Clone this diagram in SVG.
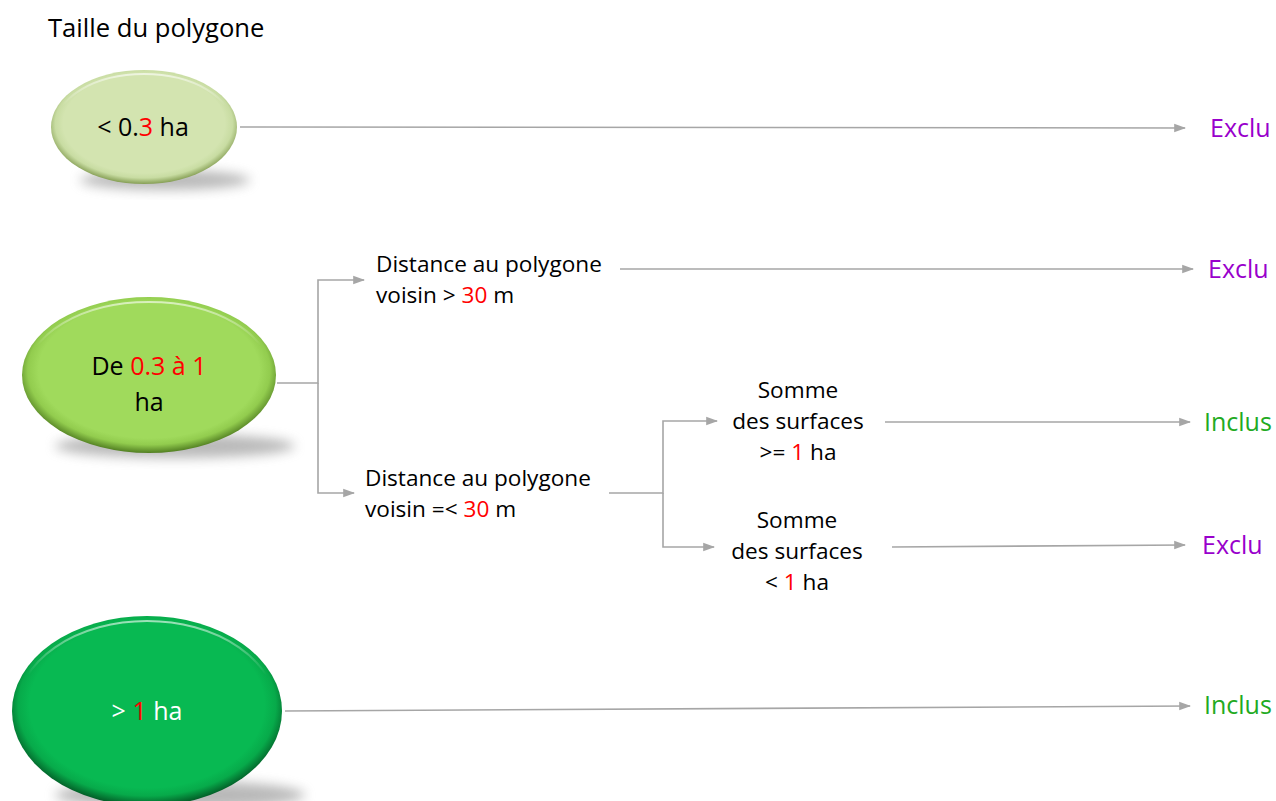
<svg xmlns="http://www.w3.org/2000/svg" width="1276" height="801" viewBox="0 0 1276 801">
<style>
text{font-family:"Open Sans","Liberation Sans",sans-serif;font-size:22.6px;fill:#000}
.c{text-anchor:middle}
.nd{font-size:25px}
.r{fill:#ff0000}
.w{fill:#ffffff}
.ex{fill:#9900cc;font-size:25px}
.in{fill:#22aa22;font-size:25px}
.ln{fill:none;stroke:#a6a6a6;stroke-width:1.6;marker-end:url(#ah)}
</style>
<defs>
<marker id="ah" viewBox="0 0 10 10" refX="9" refY="5" markerWidth="7.5" markerHeight="7.5" orient="auto" markerUnits="strokeWidth">
<path d="M0,1.5 L10,5 L0,8.5 z" fill="#a6a6a6"/>
</marker>
<filter id="blur" x="-30%" y="-50%" width="160%" height="200%"><feGaussianBlur stdDeviation="6"/></filter>
<radialGradient id="g1" cx="0.5" cy="0.47" r="0.53">
<stop offset="0.82" stop-color="#d3e4b0"/><stop offset="0.9" stop-color="#c8dca2"/><stop offset="1" stop-color="#869f55"/>
</radialGradient>
<radialGradient id="g2" cx="0.5" cy="0.47" r="0.53">
<stop offset="0.82" stop-color="#a0da5c"/><stop offset="0.9" stop-color="#92cc4e"/><stop offset="1" stop-color="#527f22"/>
</radialGradient>
<radialGradient id="g3" cx="0.5" cy="0.47" r="0.53">
<stop offset="0.82" stop-color="#08b952"/><stop offset="0.9" stop-color="#07aa4a"/><stop offset="1" stop-color="#035a26"/>
</radialGradient>
<linearGradient id="hl" x1="0" y1="0" x2="0" y2="1">
<stop offset="0" stop-color="#ffffff" stop-opacity="0.6"/><stop offset="0.3" stop-color="#ffffff" stop-opacity="0"/>
</linearGradient>
</defs>
<rect width="1276" height="801" fill="#ffffff"/>
<text x="48" y="37" style="font-size:25.6px">Taille du polygone</text>

<g id="connectors">
<path class="ln" d="M240,127 L1185,128"/>
<path class="ln" d="M277,383 H318 V280 H364"/>
<path class="ln" d="M318,383 V493 H354"/>
<path class="ln" d="M620,269 L1193,269"/>
<path class="ln" d="M609,493 H663 V421 H717"/>
<path class="ln" d="M663,493 V547 H714"/>
<path class="ln" d="M885,422 L1190,422"/>
<path class="ln" d="M892,547 L1185,545"/>
<path class="ln" d="M285,711 L1190,706"/>
</g>

<g id="node-small">
<ellipse cx="165" cy="180" rx="85" ry="10" fill="#808080" opacity="0.55" filter="url(#blur)"/>
<ellipse cx="144" cy="127" rx="93" ry="57" fill="url(#g1)"/>
<ellipse cx="144" cy="127" rx="89" ry="53" fill="none" stroke="url(#hl)" stroke-width="2"/>
<text class="c nd" x="143" y="136">&lt; 0.<tspan class="r">3</tspan> ha</text>
</g>

<g id="node-mid">
<ellipse cx="175" cy="446" rx="120" ry="12" fill="#808080" opacity="0.55" filter="url(#blur)"/>
<ellipse cx="149" cy="375" rx="127" ry="78" fill="url(#g2)"/>
<ellipse cx="149" cy="375" rx="122" ry="73" fill="none" stroke="url(#hl)" stroke-width="2"/>
<text class="c nd" x="149" y="375">De <tspan class="r">0.3 à 1</tspan></text>
<text class="c nd" x="149" y="411">ha</text>
</g>

<g id="node-large">
<ellipse cx="180" cy="795" rx="125" ry="14" fill="#808080" opacity="0.55" filter="url(#blur)"/>
<ellipse cx="147" cy="711" rx="135" ry="95" fill="url(#g3)"/>
<ellipse cx="147" cy="711" rx="130" ry="90" fill="none" stroke="url(#hl)" stroke-width="2"/>
<text class="c nd w" x="147" y="720">&gt; <tspan class="r">1</tspan> ha</text>
</g>

<g id="dist-gt">
<text x="376" y="272">Distance au polygone</text>
<text x="376" y="303">voisin &gt; <tspan class="r">30</tspan> m</text>
</g>
<g id="dist-le">
<text x="365" y="486">Distance au polygone</text>
<text x="365" y="517">voisin =&lt; <tspan class="r">30</tspan> m</text>
</g>
<g id="somme-ge">
<text class="c" x="798" y="398">Somme</text>
<text class="c" x="798" y="429">des surfaces</text>
<text class="c" x="798" y="460">&gt;= <tspan class="r">1</tspan> ha</text>
</g>
<g id="somme-lt">
<text class="c" x="797" y="528">Somme</text>
<text class="c" x="797" y="559">des surfaces</text>
<text class="c" x="797" y="590">&lt; <tspan class="r">1</tspan> ha</text>
</g>

<g id="out1"><text class="ex" x="1210" y="137">Exclu</text></g>
<g id="out2"><text class="ex" x="1208" y="278">Exclu</text></g>
<g id="out3"><text class="in" x="1204" y="431">Inclus</text></g>
<g id="out4"><text class="ex" x="1202" y="554">Exclu</text></g>
<g id="out5"><text class="in" x="1204" y="714">Inclus</text></g>
</svg>
